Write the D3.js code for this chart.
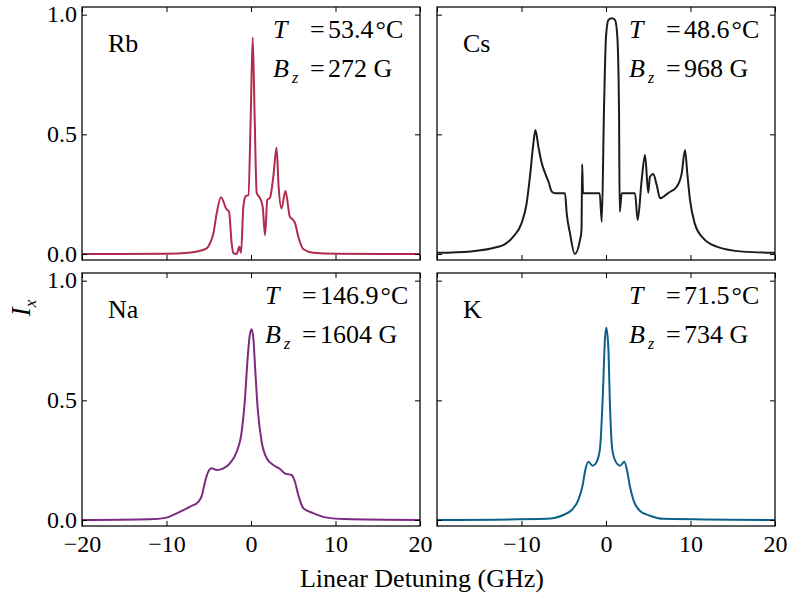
<!DOCTYPE html>
<meta charset="utf-8">
<style>
html{ background:#fff; }
body{ margin:0; }
svg text{ font-family:"Liberation Serif","Times New Roman",serif; fill:#000; }
</style>
<body>
<script src="https://d3js.org/d3.v7.min.js" charset="utf-8"></script>
<script>

var width = 791,
    height = 599;

// axis ticks
var xTicks = [-20, -10, 0, 10, 20];
var yTicks = [0, 0.5, 1.0];

// panels in reading order
var elements = ["Rb", "Cs", "Na", "K"];
var temps = ["53.4", "48.6", "146.9", "71.5"];
var fields = ["272", "968", "1604", "734"];

// spectra (detuning in GHz, Ix)
var rbX = [-20, -10, -7.4, -6.9, -5.7, -5.2, -4.85, -4.45, -4.06, -3.55, -2.9, -2.6, -2.29, -2.09, -1.7, -1.38, -1.18, -0.9, -0.63, -0.31, -0.04, 0.2, 0.44, 0.67, 1.07, 1.38, 1.66, 1.93, 2.25, 2.64, 3.02, 3.27, 3.6, 4.08, 4.6, 5.0, 5.2, 5.6, 6.2, 7.4, 10, 20];
var rbY = [0.0, 0.001, 0.005, 0.007, 0.017, 0.025, 0.045, 0.086, 0.17, 0.237, 0.187, 0.177, 0.046, 0.004, 0.0, 0.03, 0.005, 0.198, 0.242, 0.246, 0.56, 0.905, 0.56, 0.256, 0.233, 0.198, 0.079, 0.226, 0.235, 0.323, 0.444, 0.281, 0.19, 0.263, 0.156, 0.142, 0.13, 0.072, 0.02, 0.005, 0.001, 0.0];

var csX = [-20, -16, -13, -12, -11, -10, -9.4, -9.0, -8.6, -8.35, -8.0, -7.6, -7.2, -6.8, -6.4, -6.0, -4.85, -4.65, -4.26, -3.7, -3.08, -2.9, -2.82, -2.72, -0.75, -0.5, -0.24, 0.0, 0.28, 0.67, 1.07, 1.34, 1.54, 1.62, 1.86, 3.43, 3.75, 4.22, 4.62, 5.0, 5.2, 5.6, 6.0, 6.4, 7.2, 7.6, 8.37, 8.96, 9.35, 9.62, 9.94, 10.5, 11.5, 13.1, 16.2, 20];
var csY = [0.005, 0.011, 0.028, 0.04, 0.072, 0.128, 0.21, 0.323, 0.46, 0.518, 0.448, 0.379, 0.337, 0.302, 0.26, 0.254, 0.254, 0.17, 0.086, 0.0, 0.058, 0.1, 0.375, 0.254, 0.254, 0.135, 0.6, 0.908, 0.978, 0.985, 0.978, 0.908, 0.6, 0.177, 0.254, 0.254, 0.142, 0.309, 0.414, 0.256, 0.323, 0.334, 0.288, 0.233, 0.25, 0.26, 0.281, 0.337, 0.435, 0.337, 0.226, 0.128, 0.066, 0.031, 0.01, 0.005];

var naX = [-20, -12, -10, -8.8, -7.2, -6.2, -5.8, -5.44, -5.05, -4.65, -4.06, -3.27, -2.49, -1.7, -1.1, -0.71, -0.4, -0.15, 0.08, 0.3, 0.47, 0.79, 1.26, 1.86, 2.64, 3.43, 4.0, 4.8, 5.2, 5.6, 6.2, 7.4, 9.0, 11, 20];
var naY = [0.0, 0.003, 0.01, 0.028, 0.056, 0.077, 0.104, 0.16, 0.202, 0.216, 0.209, 0.216, 0.237, 0.285, 0.369, 0.508, 0.675, 0.77, 0.797, 0.75, 0.647, 0.466, 0.327, 0.258, 0.23, 0.213, 0.195, 0.188, 0.16, 0.104, 0.049, 0.028, 0.01, 0.004, 0.0];

var kX = [-20, -7.0, -5.05, -4.06, -3.27, -2.76, -2.49, -2.09, -1.58, -1.1, -0.71, -0.39, -0.12, 0.04, 0.28, 0.47, 0.75, 1.26, 1.66, 2.17, 2.52, 2.84, 3.31, 4.02, 5.2, 6.78, 20];
var kY = [0.0, 0.005, 0.021, 0.042, 0.084, 0.146, 0.202, 0.243, 0.227, 0.243, 0.299, 0.508, 0.759, 0.803, 0.717, 0.48, 0.292, 0.237, 0.227, 0.243, 0.202, 0.139, 0.077, 0.038, 0.018, 0.005, 0.0];

var spectra = [[rbX, rbY], [csX, csY], [naX, naY], [kX, kY]];

// layout / style
var colors = ["#b22a4d", "#1c1c1c", "#7b2b81", "#0d6188"];
var panelW = 338, panelH = 253;
var panelPos = [[82, 7], [437, 7], [82, 273], [437, 273]];
var textOffset = [191, 192, 183, 192];
var fmtY = d3.format(".1f");

var x = d3.scaleLinear().domain([-20, 20]).range([0, panelW]);
var y = d3.scaleLinear().domain([-0.025, 1.032]).range([panelH, 0]);

var line = d3.line()
  .x(function(d){ return x(d[0]); })
  .y(function(d){ return y(d[1]); })
  .curve(d3.curveMonotoneX);

var svg = d3.select("body").append("svg")
  .attr("width", width)
  .attr("height", height);

svg.append("defs").append("clipPath").attr("id", "clip")
  .append("rect").attr("width", panelW).attr("height", panelH);

elements.forEach(function(name, i){
  var col = i % 2, row = Math.floor(i / 2);
  var g = svg.append("g")
    .attr("transform", "translate(" + panelPos[i][0] + "," + panelPos[i][1] + ")");

  var pts = spectra[i][0].map(function(v, j){ return [v, spectra[i][1][j]]; });

  g.append("path")
    .datum(pts)
    .attr("clip-path", "url(#clip)")
    .attr("fill", "none")
    .attr("stroke", colors[i])
    .attr("stroke-width", 2)
    .attr("stroke-linejoin", "round")
    .attr("d", line);

  // inward ticks on all four sides
  var bottom = d3.axisBottom(x).tickValues(xTicks).tickSize(-5).tickPadding(9)
    .tickFormat(function(d){
      if (row === 0) return "";
      if (col === 1 && d === -20) return "";
      return d3.format("d")(d);
    });
  var top = d3.axisTop(x).tickValues(xTicks).tickSize(-5).tickFormat("");
  var left = d3.axisLeft(y).tickValues(yTicks).tickSize(-5).tickPadding(5)
    .tickFormat(function(d){ return col === 0 ? fmtY(d) : ""; });
  var right = d3.axisRight(y).tickValues(yTicks).tickSize(-5).tickFormat("");

  [[bottom, "translate(0," + panelH + ")"], [top, null], [left, null], [right, "translate(" + panelW + ",0)"]]
    .forEach(function(a){
      var ag = g.append("g").call(a[0]);
      if (a[1]) ag.attr("transform", a[1]);
      ag.select(".domain").remove();
      ag.selectAll("line").attr("stroke", "#000").attr("stroke-width", 1);
      ag.attr("font-family", null).attr("font-size", 24);
      ag.selectAll("text").style("font-family", "'Liberation Serif', serif").attr("fill", "#000");
    });
  g.selectAll(".tick text").filter(function(){ return this.getAttribute("x") !== null && +this.getAttribute("x") < 0; })
    .attr("dy", "0.3em");

  g.append("rect")
    .attr("width", panelW).attr("height", panelH)
    .attr("fill", "none").attr("stroke", "#000").attr("stroke-width", 1.25);

  // element label
  g.append("text")
    .attr("x", 26).attr("y", 45)
    .attr("font-size", 26)
    .text(name);

  // temperature / field annotation
  var tx = textOffset[i];
  var t1 = g.append("text").attr("y", 31).attr("font-size", 26);
  t1.append("tspan").attr("x", tx).attr("font-style", "italic").text("T");
  t1.append("tspan").attr("x", tx + 37).text("=");
  t1.append("tspan").attr("x", tx + 55).text(temps[i]);
  t1.append("tspan").attr("dx", 2).text("\u00b0C");

  var t2 = g.append("text").attr("y", 70).attr("font-size", 26);
  t2.append("tspan").attr("x", tx).attr("font-style", "italic").text("B");
  t2.append("tspan").attr("x", tx + 19).attr("dy", 6).attr("font-size", 16).attr("font-style", "italic").text("z");
  t2.append("tspan").attr("x", tx + 37).attr("dy", -6).text("=");
  t2.append("tspan").attr("x", tx + 55).text(fields[i] + " G");
});

// shared axis labels
svg.append("text")
  .attr("x", 422).attr("y", 587)
  .attr("text-anchor", "middle")
  .attr("font-size", 26)
  .text("Linear Detuning (GHz)");

var yl = svg.append("text")
  .attr("transform", "translate(30,308) rotate(-90)")
  .attr("text-anchor", "middle")
  .attr("font-size", 27);
yl.append("tspan").attr("font-style", "italic").text("I");
yl.append("tspan").attr("dy", 6).attr("font-size", 17).attr("font-style", "italic").text("x");

</script>
</body>
